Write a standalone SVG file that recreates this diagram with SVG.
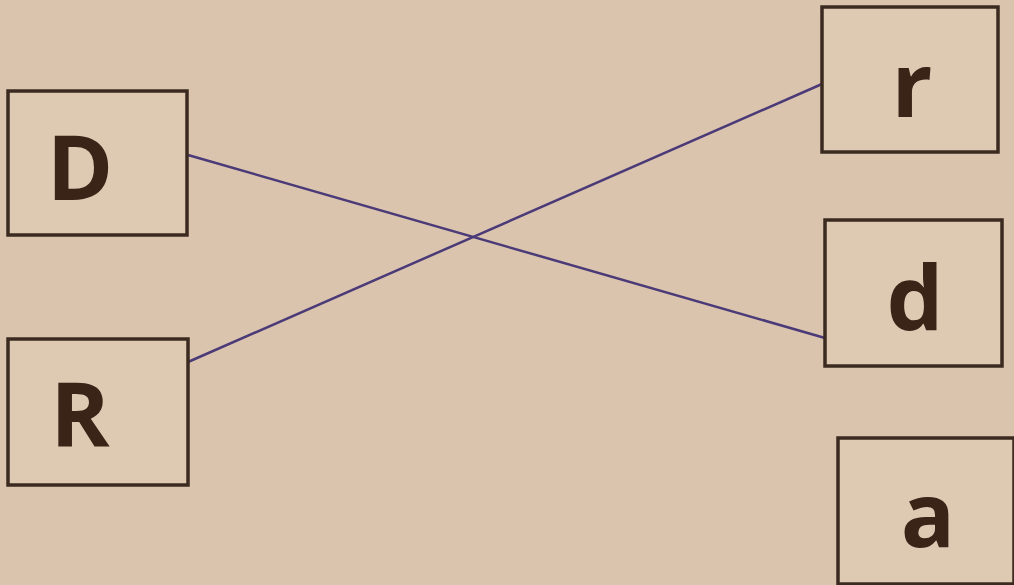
<svg xmlns="http://www.w3.org/2000/svg" width="1014" height="585" viewBox="0 0 1014 585">
<style>
.box{fill:#dec9b3;stroke:#3b2a1f;stroke-width:3.5}
.lbl{font-family:"Open Sans","Liberation Sans",sans-serif;font-weight:700;font-size:90px;fill:#3a2418;text-anchor:middle}
.conn{stroke:#4b3a78;stroke-width:2.5;fill:none}
</style>
<rect width="1014" height="585" fill="#dbc4ad"/>
<g id="connectors">
<line class="conn" x1="188" y1="155" x2="825" y2="338"/>
<line class="conn" x1="188" y1="362" x2="822" y2="84"/>
</g>
<g id="node-D"><rect class="box" x="8" y="91" width="179" height="144"/><text class="lbl" x="80" y="200">D</text></g>
<g id="node-R"><rect class="box" x="8" y="339" width="180" height="146"/><text class="lbl" x="80" y="447">R</text></g>
<g id="node-r"><rect class="box" x="822" y="7" width="176" height="145"/><text class="lbl" x="912" y="117">r</text></g>
<g id="node-d"><rect class="box" x="825" y="220" width="177" height="146"/><text class="lbl" x="915" y="330">d</text></g>
<g id="node-a"><rect class="box" x="838" y="438" width="176" height="146"/><text class="lbl" x="928" y="547">a</text></g>
</svg>
